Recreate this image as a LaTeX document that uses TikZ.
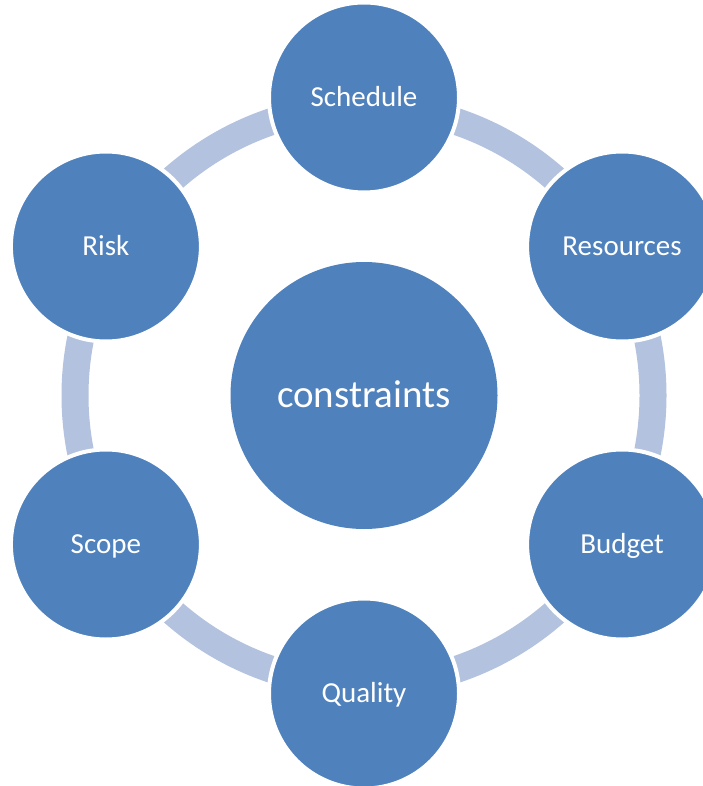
\documentclass[tikz,border=0pt]{standalone}
\usepackage{fontspec}
\setmainfont{Carlito}
\definecolor{circblue}{HTML}{4F81BD}
\definecolor{ringblue}{HTML}{B3C2DE}
\tikzset{
  outer/.style={circle, fill=circblue, draw=white, line width=4pt, minimum size=190pt,
    inner sep=0pt, text=white, font=\fontsize{29}{34}\selectfont, text height=18.5pt, text depth=0pt},
  inner/.style={circle, fill=circblue, minimum size=267pt, inner sep=0pt, text=white,
    font=\fontsize{39}{46}\selectfont, text height=23pt, text depth=0pt},
  ring/.style={draw=ringblue, line width=27pt}
}
\begin{document}
\begin{tikzpicture}[x=1pt,y=-1pt]
\useasboundingbox (0,0) rectangle (703,786);
\coordinate (o) at (364,395.5);
\draw[ring] (o) circle[radius=289];
\node[inner] (c) at (o) {constraints};
\node[outer] (sched) at (364,97.5) {Schedule};
\node[outer] (res) at (622.1,246.5) {Resources};
\node[outer] (bud) at (622.1,544.5) {Budget};
\node[outer] (qual) at (364,693.5) {Quality};
\node[outer] (scope) at (105.9,544.5) {Scope};
\node[outer] (risk) at (105.9,246.5) {Risk};
\end{tikzpicture}
\end{document}
